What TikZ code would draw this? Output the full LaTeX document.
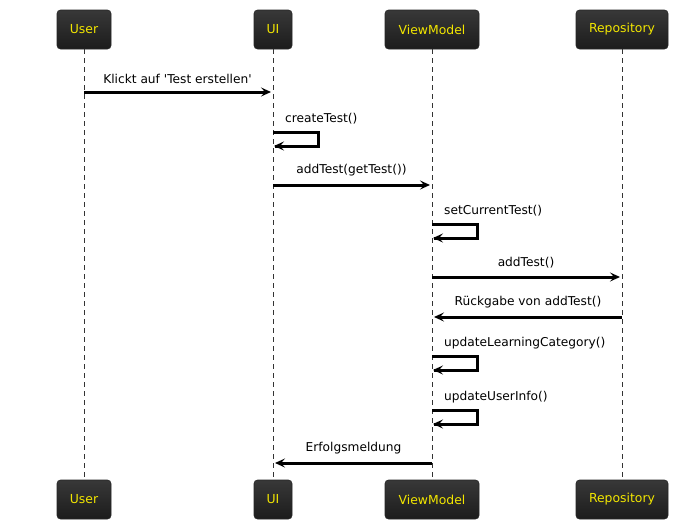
\documentclass[tikz,border=0pt]{standalone}
\usepackage{fontspec}
\setmainfont{DejaVu Sans}
\usetikzlibrary{arrows.meta,shadings}
\definecolor{boxtop}{HTML}{383838}
\definecolor{boxbot}{HTML}{1C1C1C}
\definecolor{partlabel}{HTML}{F2E600}
\tikzset{
  msgtip/.tip={Stealth[length=10pt,width=9pt,inset=4pt]},
  participant/.style={draw=black!85, line width=0.6pt, rounded corners=3.5pt,
    top color=boxtop, bottom color=boxbot, text=partlabel,
    minimum height=39pt, inner xsep=0pt, font=\fontsize{12.4}{14}\selectfont},
  lifeline/.style={draw=black!80, line width=0.6pt, dash pattern=on 5pt off 4pt},
  msg/.style={draw=black, line width=3pt, -msgtip},
  msglabel/.style={font=\fontsize{12.2}{14}\selectfont, inner sep=0pt}
}
\begin{document}
\begin{tikzpicture}[x=1pt,y=-1pt]
\useasboundingbox (0,0) rectangle (679,530);

% participants, top and bottom
\foreach \n/\t/\x/\w in {U/User/84/54, I/UI/273/38, V/ViewModel/432/94, R/Repository/622/92}{
  \node[participant, minimum width=\w pt] (\n top) at (\x,29.5) {\t};
  \node[participant, minimum width=\w pt] (\n bot) at (\x,499.5) {\t};
}

% lifelines
\foreach \n in {U,I,V,R}{
  \draw[lifeline] (\n top.south) -- (\n bot.north);
}

% message end points on the lifelines
\coordinate (m1a) at (84,92);   \coordinate (m1b) at (271,92);
\coordinate (s1a) at (273,132); \coordinate (s1b) at (273,146);
\coordinate (m2a) at (273,185); \coordinate (m2b) at (430,185);
\coordinate (s2a) at (432,224); \coordinate (s2b) at (432,238);
\coordinate (m3a) at (432,277); \coordinate (m3b) at (620,277);
\coordinate (m4a) at (622,317); \coordinate (m4b) at (434,317);
\coordinate (s3a) at (432,356); \coordinate (s3b) at (432,370);
\coordinate (s4a) at (432,410); \coordinate (s4b) at (432,424);
\coordinate (m5a) at (432,463); \coordinate (m5b) at (275,463);

% messages between lifelines
\draw[msg] (m1a) -- (m1b) node[msglabel, midway, above=7pt] {Klickt auf \textquotesingle Test erstellen\textquotesingle};
\draw[msg] (m2a) -- (m2b) node[msglabel, midway, above=7pt] {addTest(getTest())};
\draw[msg] (m3a) -- (m3b) node[msglabel, midway, above=7pt] {addTest()};
\draw[msg] (m4a) -- (m4b) node[msglabel, midway, above=7pt] {Rückgabe von addTest()};
\draw[msg] (m5a) -- (m5b) node[msglabel, midway, above=7pt] {Erfolgsmeldung};

% self messages
\foreach \a/\b/\t in {s1a/s1b/createTest(), s2a/s2b/setCurrentTest(),
                      s3a/s3b/updateLearningCategory(), s4a/s4b/updateUserInfo()}{
  \draw[msg, -] (\a) -- ++(45,0) |- ([xshift=2pt]\b);
  \draw[msg, msgtip-] ([xshift=1pt]\b) -- ++(14,0);
  \node[msglabel, anchor=base west] at ([xshift=12pt,yshift=10pt]\a) {\t};
}
\end{tikzpicture}
\end{document}
